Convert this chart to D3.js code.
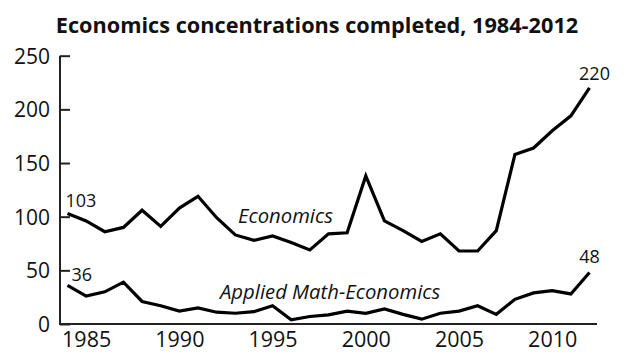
<!DOCTYPE html>
<html><head><meta charset="utf-8">
<script src="https://cdn.jsdelivr.net/npm/d3@7"></script>
<style>
html,body{margin:0;padding:0;background:#fff;}
svg{display:block;font-family:"Open Sans",sans-serif;}
</style></head>
<body>
<svg id="c" width="640" height="359"></svg>
<script>
const years = d3.range(1984, 2013);
const economics = [103,96,86,90,106,91,108,119,99,83,78,82,76,69,84,85,138,96,87,77,84,68,68,87,158,164,180,194,220];
const appliedMath = [36,26,30,39,21,17,12,15,11,10,11.5,17,4,7,8.5,12,10,14,9,4.5,10,12,17,9,23,29,31,28,48];
const yTicks = [0,50,100,150,200,250];
const xTicks = [1985,1990,1995,2000,2005,2010];
const title = "Economics concentrations completed, 1984-2012";

const svg = d3.select("#c");
const x = d3.scaleLinear().domain([1984, 2012]).range([67.5, 589.5]);
const y = d3.scaleLinear().domain([0, 250]).range([324, 55.7]);

svg.append("text").attr("x", 317).attr("y", 33).attr("text-anchor","middle")
  .attr("font-weight","bold").attr("font-size", 21.7).attr("fill","#111").text(title);

// y axis
const ya = svg.append("g").attr("transform","translate(60,0)")
  .call(d3.axisRight(y).tickValues(yTicks).tickSize(10).tickFormat(d3.format("d")));
ya.select(".domain").attr("d", `M0,${y(250)}V${y(0)}`).attr("stroke","#222").attr("stroke-width",2);
ya.selectAll(".tick line").attr("stroke","#222").attr("stroke-width",2);
ya.selectAll(".tick text").attr("x",-10).attr("text-anchor","end").attr("dy","0.36em")
  .attr("font-size",21).attr("fill","#111").attr("font-family","'Open Sans',sans-serif");

// x axis
const xa = svg.append("g").attr("transform",`translate(0,${y(0)})`)
  .call(d3.axisBottom(x).tickValues(xTicks).tickSize(0).tickFormat(d3.format("d")));
xa.select(".domain").attr("d", `M59,0H597`).attr("stroke","#222").attr("stroke-width",2);
xa.selectAll(".tick text").attr("y",8).attr("dy","0.71em")
  .attr("font-size",21.5).attr("fill","#111").attr("font-family","'Open Sans',sans-serif");

const line = d3.line().x((d,i)=>x(years[i])).y(d=>y(d));
[economics, appliedMath].forEach(s=>{
  svg.append("path").attr("d", line(s)).attr("fill","none")
    .attr("stroke","#000").attr("stroke-width",3.2).attr("stroke-linejoin","miter");
});

// end labels
const lab = (xx, yy, t, anchor) => svg.append("text").attr("x",xx).attr("y",yy)
  .attr("text-anchor",anchor||"start").attr("font-size",18).attr("fill","#111").text(t);
lab(x(1984)-2, y(economics[0])-6, economics[0]);
lab(x(1984)+4, y(appliedMath[0])-4, appliedMath[0]);
lab(x(2012)+5, y(economics[economics.length-1])-8, economics[economics.length-1], "middle");
lab(x(2012), y(appliedMath[appliedMath.length-1])-9, appliedMath[appliedMath.length-1], "middle");

// series labels
svg.append("text").attr("x",238).attr("y",223).attr("font-style","italic").attr("font-size",20.3)
  .attr("fill","#111").text("Economics");
svg.append("text").attr("x",220).attr("y",299).attr("font-style","italic").attr("font-size",20.3)
  .attr("fill","#111").text("Applied Math-Economics");
</script>
</body></html>
